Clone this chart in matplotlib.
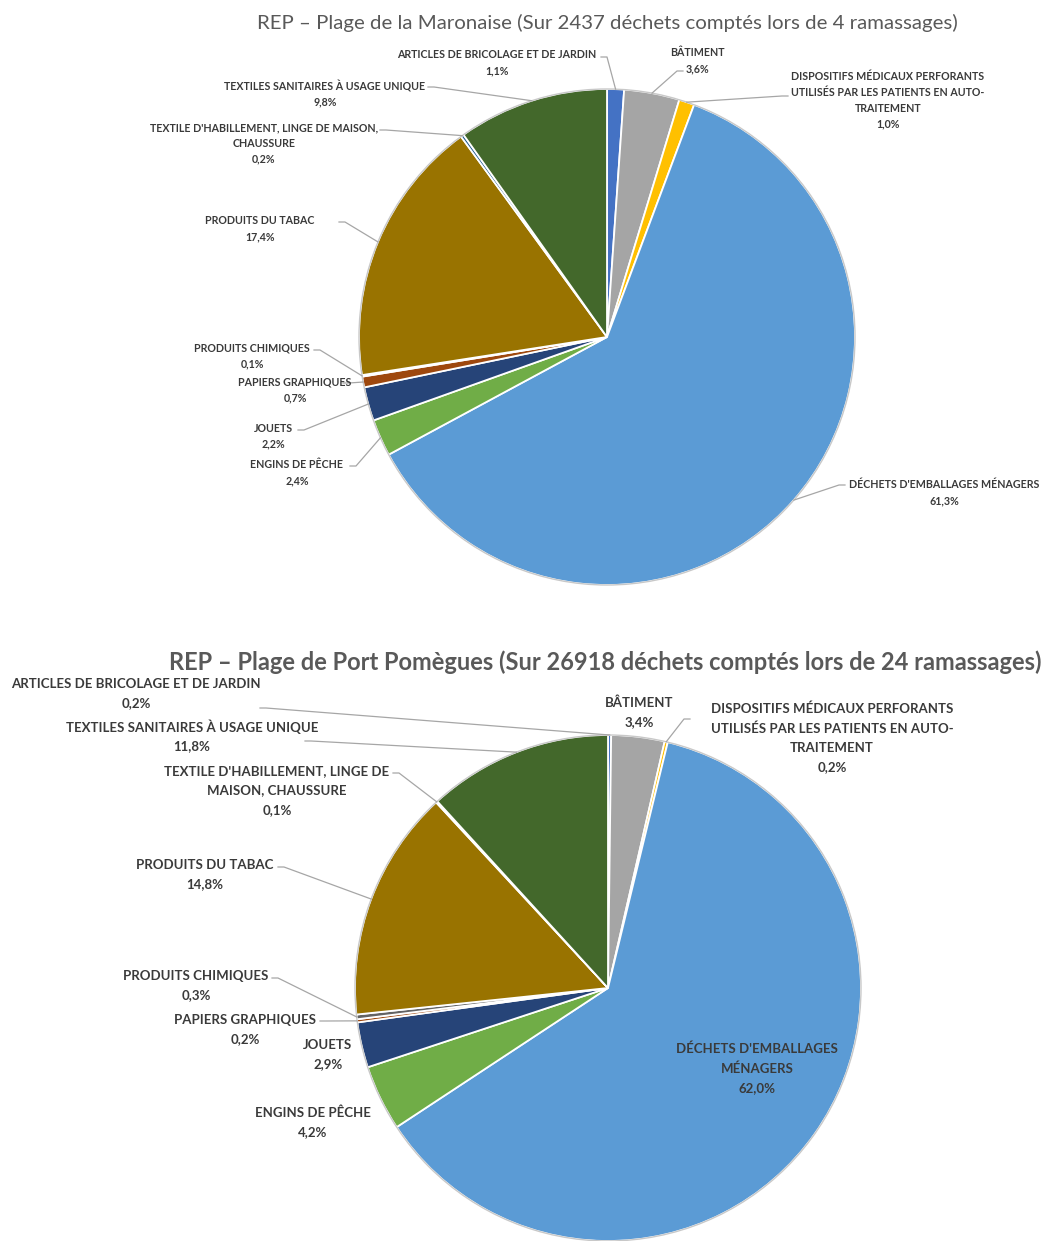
import matplotlib.pyplot as plt
import numpy as np

plt.rcParams['font.family'] = ['Lato', 'DejaVu Sans']

# Catégories (ordre des parts, sens horaire depuis midi)
categories = [
    "ARTICLES DE BRICOLAGE ET DE JARDIN",
    "BÂTIMENT",
    "DISPOSITIFS MÉDICAUX PERFORANTS UTILISÉS PAR LES PATIENTS EN AUTO-TRAITEMENT",
    "DÉCHETS D'EMBALLAGES MÉNAGERS",
    "ENGINS DE PÊCHE",
    "JOUETS",
    "PAPIERS GRAPHIQUES",
    "PRODUITS CHIMIQUES",
    "PRODUITS DU TABAC",
    "TEXTILE D'HABILLEMENT, LINGE DE MAISON, CHAUSSURE",
    "TEXTILES SANITAIRES À USAGE UNIQUE",
]

# Parts en % pour chaque plage
maronaise = [1.1, 3.6, 1.0, 61.3, 2.4, 2.2, 0.7, 0.1, 17.4, 0.2, 9.8]
pomegues = [0.2, 3.4, 0.2, 62.0, 4.2, 2.9, 0.2, 0.3, 14.8, 0.1, 11.8]

titre_maronaise = "REP – Plage de la Maronaise (Sur 2437 déchets comptés lors de 4 ramassages)"
titre_pomegues = "REP – Plage de Port Pomègues (Sur 26918 déchets comptés lors de 24 ramassages)"

couleurs = ['#4472C4', '#A5A5A5', '#FFC000', '#5B9BD5', '#70AD47', '#264478',
            '#9E480E', '#636363', '#997300', '#255E91', '#43682B']

# Découpage des libellés sur plusieurs lignes
lignes_haut = [
    ["ARTICLES DE BRICOLAGE ET DE JARDIN"],
    ["BÂTIMENT"],
    ["DISPOSITIFS MÉDICAUX PERFORANTS", "UTILISÉS PAR LES PATIENTS EN AUTO-", "TRAITEMENT"],
    ["DÉCHETS D'EMBALLAGES MÉNAGERS"],
    ["ENGINS DE PÊCHE"],
    ["JOUETS"],
    ["PAPIERS GRAPHIQUES"],
    ["PRODUITS CHIMIQUES"],
    ["PRODUITS DU TABAC"],
    ["TEXTILE D'HABILLEMENT, LINGE DE MAISON,", "CHAUSSURE"],
    ["TEXTILES SANITAIRES À USAGE UNIQUE"],
]
lignes_bas = [
    ["ARTICLES DE BRICOLAGE ET DE JARDIN"],
    ["BÂTIMENT"],
    ["DISPOSITIFS MÉDICAUX PERFORANTS", "UTILISÉS PAR LES PATIENTS EN AUTO-", "TRAITEMENT"],
    ["DÉCHETS D'EMBALLAGES", "MÉNAGERS"],
    ["ENGINS DE PÊCHE"],
    ["JOUETS"],
    ["PAPIERS GRAPHIQUES"],
    ["PRODUITS CHIMIQUES"],
    ["PRODUITS DU TABAC"],
    ["TEXTILE D'HABILLEMENT, LINGE DE", "MAISON, CHAUSSURE"],
    ["TEXTILES SANITAIRES À USAGE UNIQUE"],
]

# Placement des étiquettes (pixels, origine en haut à gauche):
# (x centre, y première ligne, point d'attache du trait, sens du coude)
pos_haut = [
    (497, 55, (601, 57), 1),
    (697, 53, (683, 71), -1),
    (888, 77, (788, 96), -1),
    (944, 485, (845, 485), -1),
    (297, 465, (350, 466), 1),
    (273, 428, (298, 430), 1),
    (295, 382, (343, 383), 1),
    (252, 348, (314, 350), 1),
    (260, 221, (339, 222), 1),
    (264, 128, (380, 130), 1),
    (325, 86, (428, 87), 1),
]
pos_bas = [
    (136, 684, (260, 708), 1),
    (639, 703, None, 0),
    (832, 709, (690, 719), -1),
    (757, 1049, None, 0),
    (313, 1113, None, 0),
    (328, 1045, None, 0),
    (245, 1020, (320, 1021), 1),
    (196, 976, (272, 978), 1),
    (205, 865, (278, 867), 1),
    (277, 771, (393, 773), 1),
    (192, 727, (305, 741), 1),
]

W, H = 1045, 1241
fig = plt.figure(figsize=(W / 100, H / 100), dpi=100)


def camembert(valeurs, cx, cy, r, lignes, positions, taille, pas):
    ax = fig.add_axes([(cx - r) / W, (H - cy - r) / H, 2 * r / W, 2 * r / H])
    ax.pie(valeurs, colors=couleurs, startangle=90, counterclock=False, radius=1,
           wedgeprops=dict(edgecolor='white', linewidth=1.3))
    ax.add_patch(plt.Circle((0, 0), 1.0, fill=False, edgecolor='#C8C8C8',
                            linewidth=1.0, clip_on=False))
    ax.set_xlim(-1, 1)
    ax.set_ylim(-1, 1)
    ax.axis('off')

    total = sum(valeurs)
    cumul = np.cumsum([0] + list(valeurs))
    for i, v in enumerate(valeurs):
        x, y0, attache, sens = positions[i]
        textes = lignes[i] + [f"{v:.1f}".replace('.', ',') + "%"]
        for k, t in enumerate(textes):
            over.text(x, y0 + k * pas, t, ha='center', va='center', fontsize=taille,
                      fontweight='bold', color='#3A3A3A')
        if attache is not None:
            ang = np.deg2rad(360 * (cumul[i] + v / 2) / total)
            bx, by = cx + r * np.sin(ang), cy - r * np.cos(ang)
            ax_, ay_ = attache
            over.plot([ax_, ax_ + 6 * sens, bx], [ay_, ay_, by],
                      color='#A6A6A6', linewidth=0.9)


over = fig.add_axes([0, 0, 1, 1], zorder=5)
over.set_xlim(0, W)
over.set_ylim(H, 0)
over.axis('off')

camembert(maronaise, 607, 337, 248, lignes_haut, pos_haut, 7.7, 15.5)
camembert(pomegues, 608, 988, 253, lignes_bas, pos_bas, 9.5, 19.5)

over.text(607, 23, titre_maronaise, ha='center', va='center', fontsize=14.7, color='#595959')
over.text(605, 662, titre_pomegues, ha='center', va='center', fontsize=17,
          fontweight='bold', color='#595959')

fig.savefig('out.png', dpi=100)
